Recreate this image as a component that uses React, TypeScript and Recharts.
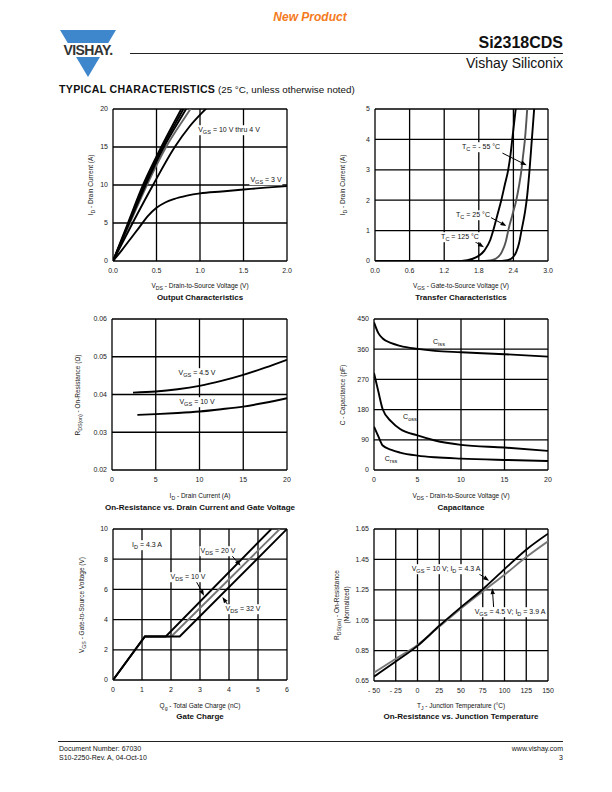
import React from 'react';
import { LineChart, Line, XAxis, YAxis, CartesianGrid, ReferenceLine } from 'recharts';

type Pt = { x: number; y: number };
const pts = (xs: number[], ys: number[]): Pt[] => xs.map((x, i) => ({ x, y: ys[i] }));

// Output characteristics
const outX10 = [0, 0.172, 0.345, 0.555, 0.785, 0.9];
const outY10 = [0, 5, 10, 15, 20, 22.5];
const outX8 = [0, 0.18, 0.36, 0.57, 0.81, 0.92];
const outY8 = [0, 5, 10, 15, 20, 22.3];
const outX6 = [0, 0.187, 0.375, 0.585, 0.84, 0.95];
const outY6 = [0, 5, 10, 15, 20, 22.2];
const outX5 = [0, 0.195, 0.39, 0.61, 0.89, 1.0];
const outY5 = [0, 5, 10, 15, 20, 22];
const outX4 = [0, 0.23, 0.46, 0.71, 0.88, 1.065, 1.15];
const outY4 = [0, 5.1, 10, 15, 17.7, 20, 21];
const outX3 = [0, 0.1, 0.2, 0.3, 0.4, 0.5, 0.6, 0.7, 0.85, 1.0, 1.25, 1.5, 1.75, 2.0];
const outY3 = [0, 1.4, 2.9, 4.4, 5.9, 7.0, 7.7, 8.15, 8.6, 8.9, 9.15, 9.4, 9.65, 9.85];
const outTicksX = [0, 0.5, 1.0, 1.5, 2.0];
const outTicksY = [0, 5, 10, 15, 20];

// Transfer characteristics
const trX125 = [0, 1.4, 1.6, 1.75, 1.9, 2.0, 2.05, 2.12, 2.19, 2.25, 2.31, 2.35, 2.38, 2.44, 2.47];
const trY125 = [0, 0, 0.03, 0.12, 0.35, 0.7, 1.0, 1.5, 2.0, 2.5, 3.0, 3.5, 4.0, 5.0, 5.5];
const trX25 = [0, 1.8, 2.0, 2.1, 2.2, 2.27, 2.31, 2.38, 2.45, 2.5, 2.54, 2.57, 2.6, 2.64, 2.66];
const trY25 = [0, 0, 0.02, 0.08, 0.3, 0.65, 1.0, 1.5, 2.0, 2.5, 3.0, 3.5, 4.0, 5.0, 5.5];
const trX55 = [0, 2.1, 2.3, 2.39, 2.45, 2.5, 2.54, 2.6, 2.63, 2.68, 2.72, 2.76, 2.78];
const trY55 = [0, 0, 0.03, 0.12, 0.3, 0.6, 1.0, 1.6, 2.0, 3.0, 4.0, 5.0, 5.5];
const trTicksX = [0, 0.6, 1.2, 1.8, 2.4, 3.0];
const trTicksY = [0, 1, 2, 3, 4, 5];

// On-resistance vs drain current
const rdsX45 = [2.4, 5, 7.5, 10, 12.5, 15, 17.5, 20];
const rdsY45 = [0.0405, 0.0408, 0.0414, 0.0423, 0.0436, 0.0452, 0.0471, 0.0492];
const rdsX10 = [2.9, 5, 7.5, 10, 12.5, 15, 17.5, 20];
const rdsY10 = [0.0346, 0.0348, 0.0351, 0.0355, 0.0361, 0.0368, 0.0378, 0.039];
const rdsTicksX = [0, 5, 10, 15, 20];
const rdsTicksY = [0.02, 0.03, 0.04, 0.05, 0.06];

// Capacitance
const capX = [0, 0.5, 1, 2, 3, 5, 7, 10, 15, 20];
const ciss = [440, 408, 392, 378, 370, 361, 355, 351, 345, 338];
const coss = [289, 234, 181, 144, 122, 103, 88, 75, 67, 57];
const crss = [129, 100, 73, 60, 52, 43, 38, 34, 30, 27];
const capTicksX = [0, 5, 10, 15, 20];
const capTicksY = [0, 90, 180, 270, 360, 450];

// Gate charge
const gcX10 = [0, 1.1, 1.82, 5.46];
const gcX20 = [0, 1.1, 2.01, 5.75];
const gcX32 = [0, 1.1, 2.3, 6.0];
const gcY = [0, 2.88, 2.88, 10];
const gcTicksX = [0, 1, 2, 3, 4, 5, 6];
const gcTicksY = [0, 2, 4, 6, 8, 10];

// On-resistance vs junction temperature
const tjX = [-50, -25, 0, 25, 50, 75, 100, 125, 150];
const tjR10 = [0.679, 0.778, 0.881, 1.013, 1.136, 1.254, 1.386, 1.514, 1.619];
const tjR45 = [0.705, 0.796, 0.887, 1.008, 1.127, 1.239, 1.349, 1.465, 1.569];
const tjTicksX = [-50, -25, 0, 25, 50, 75, 100, 125, 150];
const tjTicksY = [0.65, 0.85, 1.05, 1.25, 1.45, 1.65];

const FONT = '"Liberation Sans", Arial, Helvetica, sans-serif';

const arrow = (p: any) => {
  const { x1, y1, x2, y2 } = p;
  const a = Math.atan2(y2 - y1, x2 - x1);
  const L = 6;
  const W = 2.2;
  const bx = x2 - L * Math.cos(a);
  const by = y2 - L * Math.sin(a);
  const px = -Math.sin(a) * W;
  const py = Math.cos(a) * W;
  return (
    <g>
      <line x1={x1} y1={y1} x2={bx} y2={by} stroke="#000" strokeWidth={1} />
      <polygon points={`${x2},${y2} ${bx + px},${by + py} ${bx - px},${by - py}`} fill="#000" />
    </g>
  );
};

const Arrow = (x1: number, y1: number, x2: number, y2: number) => (
  <ReferenceLine segment={[{ x: x1, y: y1 }, { x: x2, y: y2 }]} shape={arrow} ifOverflow="visible" />
);

const Sub = ({ children }: { children: React.ReactNode }) => (
  <span style={{ fontSize: '0.8em', position: 'relative', top: '0.3em' }}>{children}</span>
);

const Txt = ({ x, y, size = 7, bold = false, bg = false, children, align = 'center' }: any) => (
  <div
    style={{
      position: 'absolute',
      left: x,
      top: y,
      transform: align === 'center' ? 'translate(-50%, -50%)' : align === 'right' ? 'translate(-100%, -50%)' : 'translate(0, -50%)',
      fontSize: size,
      fontWeight: bold ? 'bold' : 'normal',
      whiteSpace: 'nowrap',
      lineHeight: 1,
      background: bg ? '#fff' : 'transparent',
      padding: bg ? '1px 1px' : 0,
      color: '#111',
    }}
  >
    {children}
  </div>
);

const VTxt = ({ x, y, children, size = 6.5 }: any) => (
  <div
    style={{
      position: 'absolute',
      left: x,
      top: y,
      transform: 'translate(-50%, -50%) rotate(-90deg)',
      fontSize: size,
      whiteSpace: 'nowrap',
      lineHeight: 1,
      color: '#222',
      textAlign: 'center',
    }}
  >
    {children}
  </div>
);

const ML = 40;
const MT = 6;
const MR = 8;
const XH = 22;

function Panel({ left, top, w, h, xDomain, xTicks, yDomain, yTicks, xFmt, yFmt, children }: any) {
  return (
    <div style={{ position: 'absolute', left: left - ML, top: top - MT }}>
      <LineChart width={w + ML + MR} height={h + MT + XH} margin={{ top: MT, right: MR, left: 0, bottom: 0 }}>
        <CartesianGrid stroke="#000" strokeWidth={1.3} />
        <XAxis
          type="number"
          dataKey="x"
          domain={xDomain}
          ticks={xTicks}
          interval={0}
          allowDataOverflow
          axisLine={false}
          tickLine={false}
          tickSize={0}
          tickMargin={7}
          height={XH}
          tick={{ fontSize: 7, fill: '#222', fontFamily: FONT }}
          tickFormatter={xFmt}
        />
        <YAxis
          type="number"
          dataKey="y"
          domain={yDomain}
          ticks={yTicks}
          interval={0}
          allowDataOverflow
          axisLine={false}
          tickLine={false}
          tickSize={0}
          tickMargin={5}
          width={ML}
          tick={{ fontSize: 7, fill: '#222', fontFamily: FONT }}
          tickFormatter={yFmt}
        />
        {children}
      </LineChart>
    </div>
  );
}

const ln = (data: Pt[], key: string, color = '#000', type: any = 'monotone') => (
  <Line
    key={key}
    data={data}
    dataKey="y"
    type={type}
    stroke={color}
    strokeWidth={1.9}
    dot={false}
    activeDot={false}
    isAnimationActive={false}
  />
);

const f1 = (v: number) => v.toFixed(1);
const f2 = (v: number) => v.toFixed(2);
const f0 = (v: number) => String(v);
const fNeg = (v: number) => (v < 0 ? `- ${Math.abs(v)}` : String(v));

export default function App() {
  return (
    <div style={{ position: 'absolute', left: 0, top: 0, width: 612, height: 792, background: '#fff', fontFamily: FONT, overflow: 'hidden' }}>
      {/* header */}
      <Txt x={310} y={17} size={12} bold>
        <span style={{ color: '#f47a20', fontStyle: 'italic' }}>New Product</span>
      </Txt>
      <svg style={{ position: 'absolute', left: 55, top: 28 }} width={66} height={52}>
        <polygon points="5,2 61,2 33,49" fill="#3f87cc" />
        <rect x={0} y={15} width={66} height={14} fill="#fff" />
        <text x={33} y={27} textAnchor="middle" fontSize={14} fontWeight="bold" fill="#333" fontFamily={FONT} letterSpacing={-0.6}>
          VISHAY.
        </text>
      </svg>
      <div style={{ position: 'absolute', left: 130, top: 53, width: 433, height: 1, background: '#222' }} />
      <Txt x={563} y={43} size={16} bold align="right">Si2318CDS</Txt>
      <Txt x={563} y={63} size={14} align="right">Vishay Siliconix</Txt>
      <Txt x={59} y={89} size={10.6} align="left">
        <span style={{ fontWeight: 900, letterSpacing: 0.3 }}>TYPICAL CHARACTERISTICS</span>
        <span style={{ fontSize: 9.8 }}> (25 °C, unless otherwise noted)</span>
      </Txt>

      {/* Output characteristics */}
      <Panel left={113} top={109} w={174} h={152} xDomain={[0, 2]} xTicks={outTicksX} yDomain={[0, 20]} yTicks={outTicksY} xFmt={f1} yFmt={f0}>
        {ln(pts(outX5, outY5), 'o5', '#666')}
        {ln(pts(outX10, outY10), 'o10')}
        {ln(pts(outX8, outY8), 'o8')}
        {ln(pts(outX6, outY6), 'o6')}
        {ln(pts(outX4, outY4), 'o4')}
        {ln(pts(outX3, outY3), 'o3')}
      </Panel>
      <Txt x={229} y={130} bg>V<Sub>GS</Sub> = 10 V thru 4 V</Txt>
      <Txt x={266} y={180} bg>V<Sub>GS</Sub> = 3 V</Txt>
      <VTxt x={91} y={185}>I<Sub>D</Sub> - Drain Current (A)</VTxt>
      <Txt x={200} y={286} size={6.5}>V<Sub>DS</Sub> - Drain-to-Source Voltage (V)</Txt>
      <Txt x={200} y={298} size={8} bold>Output Characteristics</Txt>

      {/* Transfer characteristics */}
      <Panel left={375} top={109} w={173} h={152} xDomain={[0, 3]} xTicks={trTicksX} yDomain={[0, 5]} yTicks={trTicksY} xFmt={f1} yFmt={f0}>
        {ln(pts(trX25, trY25), 't25', '#555')}
        {ln(pts(trX125, trY125), 't125')}
        {ln(pts(trX55, trY55), 't55')}
        {Arrow(2.21, 3.55, 2.63, 3.15)}
        {Arrow(1.98, 1.46, 2.28, 1.15)}
        {Arrow(1.67, 0.71, 1.89, 0.45)}
      </Panel>
      <Txt x={481} y={147} bg>T<Sub>C</Sub> = - 55 °C</Txt>
      <Txt x={473} y={215} bg>T<Sub>C</Sub> = 25 °C</Txt>
      <Txt x={460} y={237} bg>T<Sub>C</Sub> = 125 °C</Txt>
      <VTxt x={343} y={185}>I<Sub>D</Sub> - Drain Current (A)</VTxt>
      <Txt x={461} y={286} size={6.5}>V<Sub>GS</Sub> - Gate-to-Source Voltage (V)</Txt>
      <Txt x={461} y={298} size={8} bold>Transfer Characteristics</Txt>

      {/* On-resistance vs drain current */}
      <Panel left={112} top={319} w={175} h={151} xDomain={[0, 20]} xTicks={rdsTicksX} yDomain={[0.02, 0.06]} yTicks={rdsTicksY} xFmt={f0} yFmt={f2}>
        {ln(pts(rdsX45, rdsY45), 'r45')}
        {ln(pts(rdsX10, rdsY10), 'r10')}
      </Panel>
      <Txt x={197} y={373} bg>V<Sub>GS</Sub> = 4.5 V</Txt>
      <Txt x={197} y={402} bg>V<Sub>GS</Sub> = 10 V</Txt>
      <VTxt x={78} y={395}>R<Sub>DS(on)</Sub> - On-Resistance (Ω)</VTxt>
      <Txt x={200} y={496} size={6.5}>I<Sub>D</Sub> - Drain Current (A)</Txt>
      <Txt x={200} y={508} size={8} bold>On-Resistance vs. Drain Current and Gate Voltage</Txt>

      {/* Capacitance */}
      <Panel left={374} top={319} w={174} h={151} xDomain={[0, 20]} xTicks={capTicksX} yDomain={[0, 450]} yTicks={capTicksY} xFmt={f0} yFmt={f0}>
        {ln(pts(capX, ciss), 'ciss')}
        {ln(pts(capX, coss), 'coss')}
        {ln(pts(capX, crss), 'crss')}
      </Panel>
      <Txt x={439} y={342}>C<Sub>iss</Sub></Txt>
      <Txt x={410} y={417}>C<Sub>oss</Sub></Txt>
      <Txt x={391} y={459}>C<Sub>rss</Sub></Txt>
      <VTxt x={343} y={395}>C - Capacitance (pF)</VTxt>
      <Txt x={461} y={496} size={6.5}>V<Sub>DS</Sub> - Drain-to-Source Voltage (V)</Txt>
      <Txt x={461} y={508} size={8} bold>Capacitance</Txt>

      {/* Gate charge */}
      <Panel left={113} top={529} w={174} h={151} xDomain={[0, 6]} xTicks={gcTicksX} yDomain={[0, 10]} yTicks={gcTicksY} xFmt={f0} yFmt={f0}>
        {ln(pts(gcX20, gcY), 'g20', '#777', 'linear')}
        {ln(pts(gcX10, gcY), 'g10', '#000', 'linear')}
        {ln(pts(gcX32, gcY), 'g32', '#000', 'linear')}
        {Arrow(4.02, 8.41, 4.4, 7.57)}
        {Arrow(2.87, 6.53, 3.14, 5.58)}
        {Arrow(4.02, 4.82, 3.77, 5.49)}
      </Panel>
      <Txt x={147} y={545} bg>I<Sub>D</Sub> = 4.3 A</Txt>
      <Txt x={218} y={551} bg>V<Sub>DS</Sub> = 20 V</Txt>
      <Txt x={188} y={577} bg>V<Sub>DS</Sub> = 10 V</Txt>
      <Txt x={243} y={609} bg>V<Sub>DS</Sub> = 32 V</Txt>
      <VTxt x={82} y={605}>V<Sub>GS</Sub> - Gate-to-Source Voltage (V)</VTxt>
      <Txt x={200} y={706} size={6.5}>Q<Sub>g</Sub> - Total Gate Charge (nC)</Txt>
      <Txt x={200} y={717} size={8} bold>Gate Charge</Txt>

      {/* On-resistance vs junction temperature */}
      <Panel left={374} top={529} w={174} h={152} xDomain={[-50, 150]} xTicks={tjTicksX} yDomain={[0.65, 1.65]} yTicks={tjTicksY} xFmt={fNeg} yFmt={f2}>
        {ln(pts(tjX, tjR45), 'tj45', '#777')}
        {ln(pts(tjX, tjR10), 'tj10')}
        {Arrow(69.5, 1.36, 82.2, 1.309)}
        {Arrow(87.5, 1.136, 86, 1.261)}
      </Panel>
      <Txt x={446} y={569} bg>V<Sub>GS</Sub> = 10 V; I<Sub>D</Sub> = 4.3 A</Txt>
      <Txt x={510} y={612} bg>V<Sub>GS</Sub> = 4.5 V; I<Sub>D</Sub> = 3.9 A</Txt>
      <VTxt x={337} y={605}>R<Sub>DS(on)</Sub> - On-Resistance</VTxt>
      <VTxt x={347} y={605}>(Normalized)</VTxt>
      <Txt x={461} y={706} size={6.5}>T<Sub>J</Sub> - Junction Temperature (°C)</Txt>
      <Txt x={461} y={717} size={8} bold>On-Resistance vs. Junction Temperature</Txt>

      {/* footer */}
      <div style={{ position: 'absolute', left: 58, top: 741, width: 505, height: 1, background: '#222' }} />
      <Txt x={59} y={748} size={7} align="left">Document Number: 67030</Txt>
      <Txt x={59} y={757} size={7} align="left">S10-2250-Rev. A, 04-Oct-10</Txt>
      <Txt x={563} y={748} size={7} align="right">www.vishay.com</Txt>
      <Txt x={563} y={757} size={7} align="right">3</Txt>
    </div>
  );
}
